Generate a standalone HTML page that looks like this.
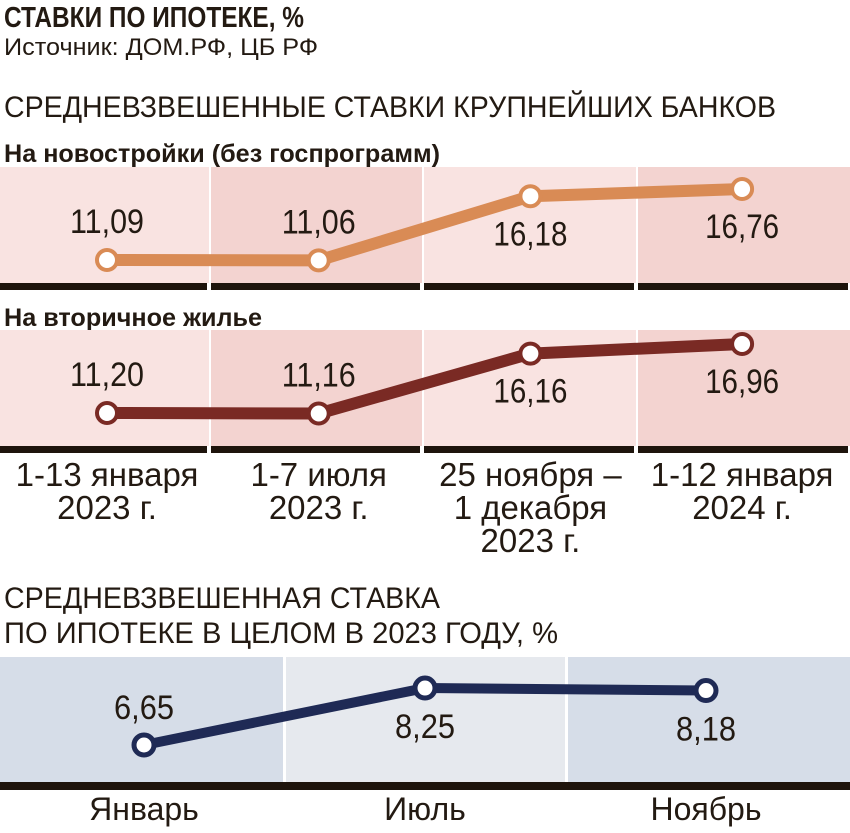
<!DOCTYPE html>
<html><head><meta charset="utf-8">
<style>
html,body{margin:0;padding:0;background:#fff;}
svg{display:block;font-family:"Liberation Sans Narrow","Liberation Sans","DejaVu Sans Condensed",sans-serif;}
</style></head>
<body>
<svg width="850" height="833" viewBox="0 0 850 833">
<text x="4" y="27" font-size="29" font-weight="bold" fill="#231a12" textLength="300" lengthAdjust="spacingAndGlyphs">СТАВКИ ПО ИПОТЕКЕ, %</text>
<text x="4" y="55" font-size="24" fill="#231a12" textLength="314" lengthAdjust="spacingAndGlyphs">Источник: ДОМ.РФ, ЦБ РФ</text>
<text x="4" y="117" font-size="30" fill="#231a12" textLength="772" lengthAdjust="spacingAndGlyphs">СРЕДНЕВЗВЕШЕННЫЕ СТАВКИ КРУПНЕЙШИХ БАНКОВ</text>
<text x="4" y="162" font-size="25" font-weight="bold" fill="#231a12" textLength="436" lengthAdjust="spacingAndGlyphs">На новостройки (без госпрограмм)</text>
<text x="4" y="326" font-size="25" font-weight="bold" fill="#231a12" textLength="258" lengthAdjust="spacingAndGlyphs">На вторичное жилье</text>
<g id="panels"></g>
<text x="4" y="608" font-size="30" fill="#231a12" textLength="436" lengthAdjust="spacingAndGlyphs">СРЕДНЕВЗВЕШЕННАЯ СТАВКА</text>
<text x="4" y="643" font-size="30" fill="#231a12" textLength="554" lengthAdjust="spacingAndGlyphs">ПО ИПОТЕКЕ В ЦЕЛОМ В 2023 ГОДУ, %</text>
</svg>
<script>
const periods = [["1-13 января","2023 г."],["1-7 июля","2023 г."],["25 ноября –","1 декабря","2023 г."],["1-12 января","2024 г."]];
const newBuildRates = [11.09, 11.06, 16.18, 16.76];
const newBuildLabels = ["11,09","11,06","16,18","16,76"];
const secondaryRates = [11.20, 11.16, 16.16, 16.96];
const secondaryLabels = ["11,20","11,16","16,16","16,96"];
const months = ["Январь","Июль","Ноябрь"];
const overallRates = [6.65, 8.25, 8.18];
const overallLabels = ["6,65","8,25","8,18"];

const NS = "http://www.w3.org/2000/svg";
const root = document.getElementById("panels");
function mk(tag, attrs, parent){const e=document.createElementNS(NS,tag);for(const k in attrs)e.setAttribute(k,attrs[k]);(parent||root).appendChild(e);return e;}

const colX4 = i => 107 + i*211.7;
function bankPanel(top, vals, labels, color, name, yBase, vBase, scale){
  const bottom = top + 116;
  const y = v => yBase - (v - vBase)*scale;
  const edges=[0,209,422,636,850];
  for(let i=0;i<4;i++){
    const r=mk("rect",{x:edges[i]+(i?2:0),y:top,width:edges[i+1]-edges[i]-(i?2:0),height:bottom-top,fill:i%2?"#f3d3d0":"#f9e3e1"});
    
    
    const b=mk("rect",{x:edges[i]+(i?2:0),y:bottom,width:edges[i+1]-edges[i]-(i?2:0)-2,height:7,fill:"#1e140c"});
    
    
  }
  const pts=vals.map((v,i)=>colX4(i)+","+y(v)).join(" ");
  const l=mk("polyline",{points:pts,fill:"none",stroke:color,"stroke-width":12,"stroke-linejoin":"round"});
  
  
  vals.forEach((v,i)=>{
    const c=mk("circle",{cx:colX4(i),cy:y(v),r:10,fill:"#fff",stroke:color,"stroke-width":4});
    
    
    const above = i<2;
    const ty = above ? y(v)-27 : y(v)+49;
    const t=mk("text",{x:colX4(i),y:ty,"text-anchor":"middle","font-size":34,fill:"#231a12",textLength:74,lengthAdjust:"spacingAndGlyphs"});
    t.textContent=labels[i];
    
    
  });
}
bankPanel(167, newBuildRates, newBuildLabels, "#d98b55", "new-build", 260, 11.09, 12.52);
bankPanel(330, secondaryRates, secondaryLabels, "#7a2a24", "secondary", 413, 11.20, 11.98);

periods.forEach((lines,i)=>{
  lines.forEach((s,j)=>{
    const t=mk("text",{x:colX4(i),y:486+j*33,"text-anchor":"middle","font-size":33,fill:"#231a12"});
    t.textContent=s;
    
    
  });
});

const top3=657, bot3=782;
const mx = i => 144 + i*281;
const my = v => 745 - (v-6.65)*35.6;
const edges3=[0,283,565,850];
for(let i=0;i<3;i++){
  const x0=edges3[i]+(i?3:0);
  const r=mk("rect",{x:x0,y:top3,width:edges3[i+1]-x0,height:bot3-top3,fill:i%2?"#e6e9ee":"#d6dde8"});
  
  
}
const base=mk("rect",{x:0,y:bot3,width:850,height:8,fill:"#1e140c"});


const ol=mk("polyline",{points:overallRates.map((v,i)=>mx(i)+","+my(v)).join(" "),fill:"none",stroke:"#1f2a55","stroke-width":10,"stroke-linejoin":"round"});


overallRates.forEach((v,i)=>{
  const c=mk("circle",{cx:mx(i),cy:my(v),r:10,fill:"#fff",stroke:"#1f2a55","stroke-width":5});
  
  
  const ty = i===0 ? my(v)-26 : my(v)+50;
  const t=mk("text",{x:mx(i),y:ty,"text-anchor":"middle","font-size":34,fill:"#231a12",textLength:60,lengthAdjust:"spacingAndGlyphs"});
  t.textContent=overallLabels[i];
  
  
  const m=mk("text",{x:mx(i),y:820,"text-anchor":"middle","font-size":32,fill:"#231a12"});
  m.textContent=months[i];
  
  
});
</script>
</body></html>
